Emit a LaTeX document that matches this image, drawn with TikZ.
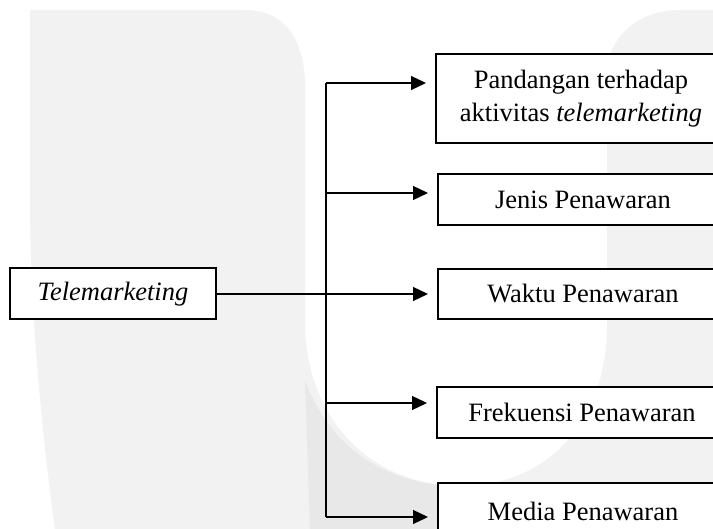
\documentclass[tikz,border=0pt]{standalone}
\usepackage{fontspec}
\setmainfont{Liberation Serif}
\usetikzlibrary{arrows.meta,calc}
\begin{document}
\begin{tikzpicture}[x=1pt,y=-1pt,
  box/.style={draw,line width=2pt,fill=white,inner sep=0pt,align=center,
    font=\fontsize{26.5}{32.5}\selectfont},
  arr/.style={line width=1.3pt,-{Triangle[length=15pt,width=14pt]},shorten >=9pt},
  lin/.style={line width=1.3pt},
  wm/.style={fill=black!5,draw=none}]
\clip (0,0) rectangle (713,529);
\fill[white] (0,0) rectangle (713,529);
% watermark
\fill[wm] (30,10) -- (245,10) .. controls (285,10) and (303,40) .. (305,80)
  -- (305,330) .. controls (310,430) and (380,486) .. (460,486)
  .. controls (550,486) and (605,420) .. (607,330)
  -- (607,70) .. controls (610,35) and (640,10) .. (680,10) -- (713,10)
  -- (713,529) -- (55,529) .. controls (40,420) and (30,300) .. (30,200) -- cycle;
\fill[black!9] (305,380) .. controls (330,450) and (390,486) .. (460,486)
  -- (440,529) -- (310,529) -- cycle;
% nodes
\node[box,minimum width=206pt,minimum height=51pt] (tm) at (113,294) {\textit{Telemarketing}};
\node[box,minimum width=290pt,minimum height=89pt] (p1) at (581,98.5) {Pandangan terhadap\\aktivitas \textit{telemarketing}};
\node[box,minimum width=290pt,minimum height=51pt] (p2) at (583,199.5) {Jenis Penawaran};
\node[box,minimum width=290pt,minimum height=50pt] (p3) at (583,294) {Waktu Penawaran};
\node[box,minimum width=290pt,minimum height=51pt] (p4) at (582,412.5) {Frekuensi Penawaran};
\node[box,minimum width=290pt,minimum height=56pt] (p5) at (583,511) {Media Penawaran};
% spine
\coordinate (b1) at (326,83);
\coordinate (b2) at (326,193);
\coordinate (b4) at (326,403);
\coordinate (b5) at (326,517);
\draw[lin] (b1) -- (b5);
\draw[arr] (b1) -- (b1 -| p1.west);
\draw[arr] (b2) -- (b2 -| p2.west);
\draw[arr] (b4) -- (b4 -| p4.west);
\draw[arr] (b5) -- (b5 -| p5.west);
\draw[arr] (tm.east) -- (p3.west);
\end{tikzpicture}
\end{document}
